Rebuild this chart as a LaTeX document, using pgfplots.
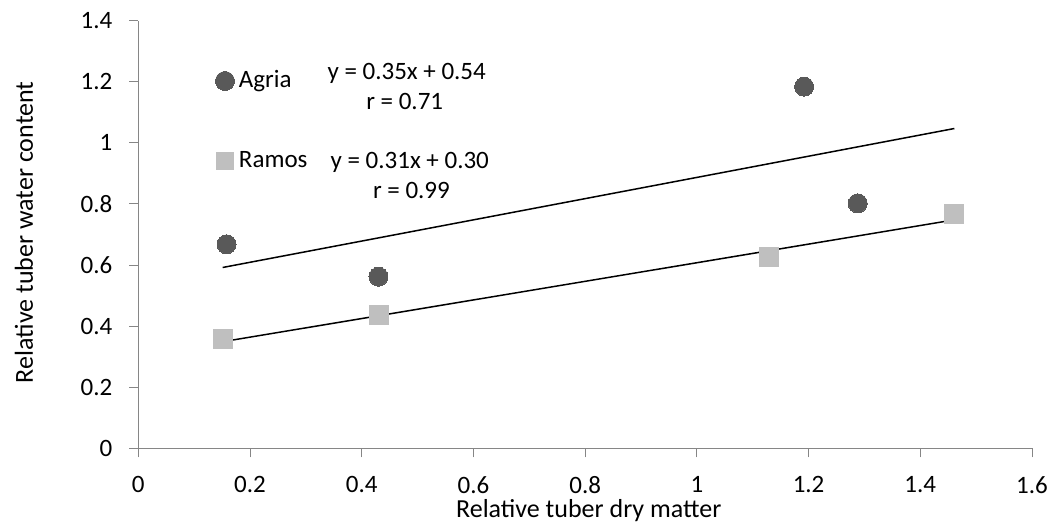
\documentclass[border=0pt]{standalone}
\usepackage{fontspec}
\setmainfont{Carlito}
\usepackage{pgfplots}
\pgfplotsset{compat=1.18}
\definecolor{axisgray}{HTML}{868686}
\definecolor{agria}{HTML}{595959}
\definecolor{ramos}{HTML}{BFBFBF}
\newcommand{\tickfont}{\fontsize{25bp}{30bp}\selectfont}
\newcommand{\titlefont}{\fontsize{26bp}{31bp}\selectfont}
\newcommand{\eqfont}{\fontsize{25bp}{30bp}\selectfont}
\begin{document}
\tickfont
\begin{tikzpicture}
\begin{axis}[
  scale only axis, width=893.7bp, height=427.6bp,
  xmin=0, xmax=1.6, ymin=0, ymax=1.4,
  xtick={0,0.2,0.4,0.6,0.8,1,1.2,1.4,1.6},
  ytick={0,0.2,0.4,0.6,0.8,1,1.2,1.4},
  axis x line*=bottom, axis y line*=left,
  axis line style={axisgray, line width=1bp, -},
  tick style={axisgray, line width=1bp},
  tick align=outside, major tick length=9bp,
  /pgf/number format/assume math mode=true,
  ticklabel style={font=\tickfont, text=black},
  xticklabel style={yshift=-10.5bp},
  yticklabel style={xshift=-8.5bp},
  xlabel={Relative tuber dry matter},
  ylabel={Relative tuber water content},
  xlabel style={font=\titlefont, at={([yshift=-69bp]rel axis cs:0.504,0)}, anchor=base},
  ylabel style={font=\titlefont, at={([xshift=-105.3bp]rel axis cs:0,0.505)}, anchor=base, rotate=0},
  legend style={draw=none, fill=none, font=\eqfont, inner sep=0pt, outer sep=0pt,
    at={(axis cs:0.1382,1.2371)}, anchor=north west, row sep=60bp, column sep=4.5bp,
    nodes={inner sep=0pt}},
  legend cell align=left,
  legend image code/.code={\draw[#1] plot coordinates {(0bp,0bp)};},
  clip=false,
]
\addplot[only marks, mark=*, mark size=9.5bp, color=agria, line width=0pt, forget plot]
  coordinates {(0.158,0.668) (0.430,0.562) (1.192,1.184) (1.288,0.802)};
\addplot[only marks, mark=square*, mark size=9.5bp, color=ramos, line width=0pt, forget plot]
  coordinates {(0.152,0.358) (0.431,0.436) (1.129,0.627) (1.460,0.766)};
\addlegendimage{only marks, mark=*, mark size=9.5bp, color=agria, line width=0pt}
\addlegendentry{Agria}
\addlegendimage{only marks, mark=square*, mark size=8.3bp, color=ramos, line width=0pt}
\addlegendentry{Ramos}
\addplot[black, line width=1.5bp, forget plot] coordinates {(0.151,0.592) (1.461,1.047)};
\addplot[black, line width=1.5bp, forget plot] coordinates {(0.151,0.349) (1.461,0.748)};
\node[anchor=base, font=\eqfont, inner sep=0pt] at (axis cs:0.4805,1.209) {y = 0.35x + 0.54};
\node[anchor=base, font=\eqfont, inner sep=0pt] at (axis cs:0.4770,1.1108) {r = 0.71};
\node[anchor=base, font=\eqfont, inner sep=0pt] at (axis cs:0.486,0.9145) {y = 0.31x + 0.30};
\node[anchor=base, font=\eqfont, inner sep=0pt] at (axis cs:0.489,0.8163) {r = 0.99};
\coordinate (sw) at (rel axis cs:0,0);
\coordinate (ne) at (rel axis cs:1,1);
\end{axis}
\pgfresetboundingbox
\path ([shift={(-138.3bp,-74.7bp)}]sw) rectangle ([shift={(23bp,20.7bp)}]ne);
\end{tikzpicture}
\end{document}
